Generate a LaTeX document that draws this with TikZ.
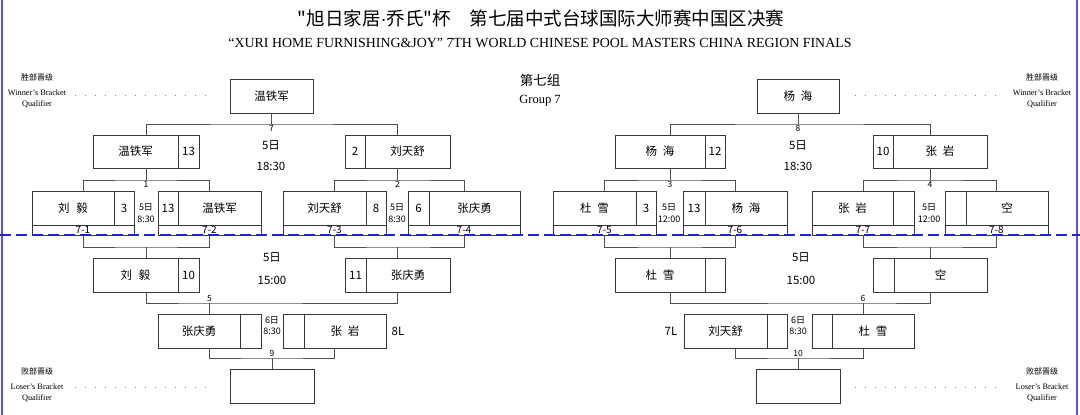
\documentclass[tikz,border=0pt]{standalone}
\usepackage{fontspec}
\setmainfont{Liberation Serif}
\newfontfamily\cjk{Noto Sans CJK SC}
\newfontfamily\lsans{Liberation Sans}
\usetikzlibrary{fit,calc}
\definecolor{boxc}{HTML}{383838}
\definecolor{connc}{HTML}{505050}
\definecolor{bluel}{HTML}{2323C8}
\definecolor{edgeb}{HTML}{5555DD}
\definecolor{dotc}{HTML}{808080}

\newcommand{\cellbox}[6]{%
  \pgfmathsetmacro\cw{#4-#2}\pgfmathsetmacro\ch{#5-#3}%
  \node[cellst, minimum width=\cw pt, minimum height=\ch pt, anchor=north west] (#1) at (#2,#3) {#6};}
% name left, score right: id, y1, y2, x1, xd, x2, name, score
\newcommand{\entryNS}[8]{%
  \cellbox{#1-n}{#4}{#2}{#5}{#3}{#7}%
  \cellbox{#1-s}{#5}{#2}{#6}{#3}{#8}%
  \node[boxfit, fit=(#1-n)(#1-s)] (#1) {};}
% score left, name right: id, y1, y2, x1, xd, x2, score, name
\newcommand{\entrySN}[8]{%
  \cellbox{#1-s}{#4}{#2}{#5}{#3}{#7}%
  \cellbox{#1-n}{#5}{#2}{#6}{#3}{#8}%
  \node[boxfit, fit=(#1-s)(#1-n)] (#1) {};}
\newcommand{\stripcell}[4]{%
  \pgfmathsetmacro\cw{#3-#2}%
  \node[stripst, minimum width=\cw pt, minimum height=10pt, anchor=north west] (#1-t) at (#2,225) {#4};}

\begin{document}
\begin{tikzpicture}[x=1pt,y=-1pt,
  cellst/.style={draw=boxc, line width=0.8pt, inner sep=0pt, outer sep=0pt, font=\cjk\fontsize{11.5}{11.5}\selectfont},
  stripst/.style={cellst, font=\cjk\fontsize{10}{10}\selectfont},
  boxfit/.style={inner sep=0pt, outer sep=0pt},
  conn/.style={draw=connc, line width=0.8pt},
  dots/.style={draw=dotc, line width=1pt, dash pattern=on 1.2pt off 8.8pt},
  txt/.style={inner sep=0pt, font=\cjk\fontsize{11.5}{11.5}\selectfont},
  small/.style={inner sep=0pt, font=\cjk\fontsize{9}{9}\selectfont},
  num/.style={inner sep=0pt, font=\cjk\fontsize{8.5}{8.5}\selectfont},
  side/.style={inner sep=0pt, font=\fontsize{8.3}{8.3}\selectfont},
  sidecjk/.style={inner sep=0pt, font=\cjk\fontsize{8}{8}\selectfont},
]
\useasboundingbox (0,0) rectangle (1080,415);
\fill[white] (0,0) rectangle (1080,415);

% edges
\draw[edgeb, line width=1.4pt] (2,0) -- (2,415);
\draw[edgeb, line width=1.4pt] (1077,0) -- (1077,415);

% titles
\node[inner sep=0pt, font=\cjk\fontsize{18.5}{18.5}\selectfont] (title) at (541,18) {"旭日家居{\lsans·}乔氏"杯\hspace{1em}第七届中式台球国际大师赛中国区决赛};
\node[inner sep=0pt, font=\fontsize{13.9}{13.9}\selectfont] (subtitle) at (540,43) {“XURI HOME FURNISHING\&JOY" 7TH WORLD CHINESE POOL MASTERS CHINA REGION FINALS};
\node[inner sep=0pt, font=\cjk\fontsize{13.5}{13.5}\selectfont] (grp) at (540,80) {第七组};
\node[inner sep=0pt, font=\fontsize{12.5}{12.5}\selectfont] (grpen) at (540,101) {Group 7};

% side labels
\node[sidecjk] (wl1) at (37,77) {胜部晋级};
\node[side] (wl2) at (37,93) {Winner's Bracket};
\node[side] (wl3) at (37,104) {Qualifier};
\node[sidecjk] (wr1) at (1042,77) {胜部晋级};
\node[side] (wr2) at (1042,93) {Winner's Bracket};
\node[side] (wr3) at (1042,104) {Qualifier};
\node[sidecjk] (ll1) at (37,371) {败部晋级};
\node[side] (ll2) at (37,387) {Loser's Bracket};
\node[side] (ll3) at (37,398) {Qualifier};
\node[sidecjk] (lr1) at (1042,371) {败部晋级};
\node[side] (lr2) at (1042,387) {Loser's Bracket};
\node[side] (lr3) at (1042,398) {Qualifier};

% qualifier boxes
\cellbox{Q1}{230}{79}{313}{113}{温铁军}
\cellbox{Q2}{757}{79}{839}{113}{杨\hspace{0.5em}海}
\cellbox{B1}{230}{369}{314}{403}{}
\cellbox{B2}{756}{369}{840}{403}{}

% dotted leaders
\coordinate (dl1a) at (75,95); \coordinate (dl1b) at (214,95);
\coordinate (dr1a) at (855,95); \coordinate (dr1b) at (1002,95);
\coordinate (dl2a) at (75,387); \coordinate (dl2b) at (214,387);
\coordinate (dr2a) at (855,387); \coordinate (dr2b) at (1002,387);
\draw[dots] (dl1a) -- (dl1b);
\draw[dots] (dr1a) -- (dr1b);
\draw[dots] (dl2a) -- (dl2b);
\draw[dots] (dr2a) -- (dr2b);

% row 2
\entryNS{W7a}{135}{168}{93}{178}{199}{温铁军}{13}
\entrySN{W7b}{135}{168}{345}{365}{450}{2}{刘天舒}
\entryNS{W8a}{135}{168}{615}{705}{725}{杨\hspace{0.5em}海}{12}
\entrySN{W8b}{135}{168}{873}{893}{987}{10}{张\hspace{0.5em}岩}

% row 3
\entryNS{M1a}{191}{225}{32}{114}{134}{刘\hspace{0.6em}毅}{3}
\stripcell{M1a}{32}{134}{7-1}
\entrySN{M1b}{191}{225}{158}{178}{261}{13}{温铁军}
\stripcell{M1b}{158}{261}{7-2}
\entryNS{M2a}{191}{225}{283}{366}{386}{刘天舒}{8}
\stripcell{M2a}{283}{386}{7-3}
\entrySN{M2b}{191}{225}{408}{429}{520}{6}{张庆勇}
\stripcell{M2b}{408}{520}{7-4}
\entryNS{M3a}{191}{225}{553}{636}{656}{杜\hspace{0.5em}雪}{3}
\stripcell{M3a}{553}{656}{7-5}
\entrySN{M3b}{191}{225}{683}{705}{787}{13}{杨\hspace{0.5em}海}
\stripcell{M3b}{683}{787}{7-6}
\entryNS{M4a}{191}{225}{812}{893}{914}{张\hspace{0.5em}岩}{}
\stripcell{M4a}{812}{914}{7-7}
\entrySN{M4b}{191}{225}{945}{966}{1048}{}{空}
\stripcell{M4b}{945}{1048}{7-8}

% loser round 1
\entryNS{L1a}{258}{292}{93}{178}{199}{刘\hspace{0.6em}毅}{10}
\entrySN{L1b}{258}{292}{345}{366}{450}{11}{张庆勇}
\entryNS{L1c}{258}{292}{615}{705}{725}{杜\hspace{0.5em}雪}{}
\entrySN{L1d}{258}{292}{873}{894}{987}{}{空}

% loser round 2
\entryNS{L2a}{314}{348}{158}{240}{261}{张庆勇}{}
\entrySN{L2b}{314}{348}{283}{304}{386}{}{张\hspace{0.5em}岩}
\entryNS{L2c}{314}{348}{684}{767}{787}{刘天舒}{}
\entrySN{L2d}{314}{348}{812}{832}{914}{}{杜\hspace{0.5em}雪}

% junctions
\coordinate (j7) at ($(Q1.south)+(0,11)$);
\coordinate (j8) at ($(Q2.south)+(0,11)$);
\coordinate (j1) at ($(W7a.south)+(0,12)$);
\coordinate (j2) at ($(W7b.south)+(0,12)$);
\coordinate (j3) at ($(W8a.south)+(0,12)$);
\coordinate (j4) at ($(W8b.south)+(0,12)$);
\coordinate (k1) at ($(L1a.north)+(0,-11)$);
\coordinate (k2) at ($(L1b.north)+(0,-11)$);
\coordinate (k3) at ($(L1c.north)+(0,-11)$);
\coordinate (k4) at ($(L1d.north)+(0,-11)$);
\coordinate (j5) at ($(L2a.north)+(0,-11)$);
\coordinate (j6) at ($(L2d.north)+(0,-11)$);
\coordinate (j9) at ($(B1.north)+(0,-11)$);
\coordinate (j10) at ($(B2.north)+(0,-11)$);

% winner brackets
\draw[conn] (W7a.north) |- (j7) -| (W7b.north); \draw[conn] (j7) -- (Q1.south);
\draw[conn] (W8a.north) |- (j8) -| (W8b.north); \draw[conn] (j8) -- (Q2.south);
\draw[conn] (M1a.north) |- (j1) -| (M1b.north); \draw[conn] (j1) -- (W7a.south);
\draw[conn] (M2a.north) |- (j2) -| (M2b.north); \draw[conn] (j2) -- (W7b.south);
\draw[conn] (M3a.north) |- (j3) -| (M3b.north); \draw[conn] (j3) -- (W8a.south);
\draw[conn] (M4a.north) |- (j4) -| (M4b.north); \draw[conn] (j4) -- (W8b.south);
% loser brackets
\draw[conn] (M1a-t.south) |- (k1) -| (M1b-t.south); \draw[conn] (k1) -- (L1a.north);
\draw[conn] (M2a-t.south) |- (k2) -| (M2b-t.south); \draw[conn] (k2) -- (L1b.north);
\draw[conn] (M3a-t.south) |- (k3) -| (M3b-t.south); \draw[conn] (k3) -- (L1c.north);
\draw[conn] (M4a-t.south) |- (k4) -| (M4b-t.south); \draw[conn] (k4) -- (L1d.north);
\draw[conn] (L1a.south) |- (j5) -| (L1b.south); \draw[conn] (j5) -- (L2a.north);
\draw[conn] (L1c.south) |- (j6) -| (L1d.south); \draw[conn] (j6) -- (L2d.north);
\draw[conn] (L2a.south) |- (j9) -| (L2b.south); \draw[conn] (j9) -- (B1.north);
\draw[conn] (L2c.south) |- (j10) -| (L2d.south); \draw[conn] (j10) -- (B2.north);

% match numbers
\node[num, anchor=north] (n7) at ($(j7)+(0,1)$) {7};
\node[num, anchor=north] (n8) at ($(j8)+(0,1)$) {8};
\node[num, anchor=north] (n1) at ($(j1)+(0,1)$) {1};
\node[num, anchor=north] (n2) at ($(j2)+(0,1)$) {2};
\node[num, anchor=north] (n3) at ($(j3)+(0,1)$) {3};
\node[num, anchor=north] (n4) at ($(j4)+(0,1)$) {4};
\node[num, anchor=south] (n5) at ($(j5)+(0,-1.5)$) {5};
\node[num, anchor=south] (n6) at ($(j6)+(0,-1.5)$) {6};
\node[num, anchor=south] (n9) at ($(j9)+(0,-1.5)$) {9};
\node[num, anchor=south] (n10) at ($(j10)+(0,-1.5)$) {10};

% times
\node[txt] (t7a) at (271,145) {5日};
\node[txt] (t7b) at (271,166) {18:30};
\node[txt] (t8a) at (798,145) {5日};
\node[txt] (t8b) at (798,166) {18:30};
\node[small] (t1a) at (146,207) {5日};
\node[small] (t1b) at (146,219) {8:30};
\node[small] (t2a) at (397,207) {5日};
\node[small] (t2b) at (397,219) {8:30};
\node[small] (t3a) at (669,207) {5日};
\node[small] (t3b) at (669,219) {12:00};
\node[small] (t4a) at (929,207) {5日};
\node[small] (t4b) at (929,219) {12:00};
\node[txt] (t5a) at (272,257) {5日};
\node[txt] (t5b) at (272,280) {15:00};
\node[txt] (t6a) at (801,257) {5日};
\node[txt] (t6b) at (801,280) {15:00};
\node[small] (t9a) at (272,320) {6日};
\node[small] (t9b) at (272,331) {8:30};
\node[small] (t10a) at (798,320) {6日};
\node[small] (t10b) at (798,331) {8:30};
\node[txt] (l8) at (398,331) {8L};
\node[txt] (l7) at (671,331) {7L};

% dashed divider
\draw[bluel, line width=1.8pt, dash pattern=on 11pt off 5pt] (0,235) -- (1080,235);
\end{tikzpicture}
\end{document}
